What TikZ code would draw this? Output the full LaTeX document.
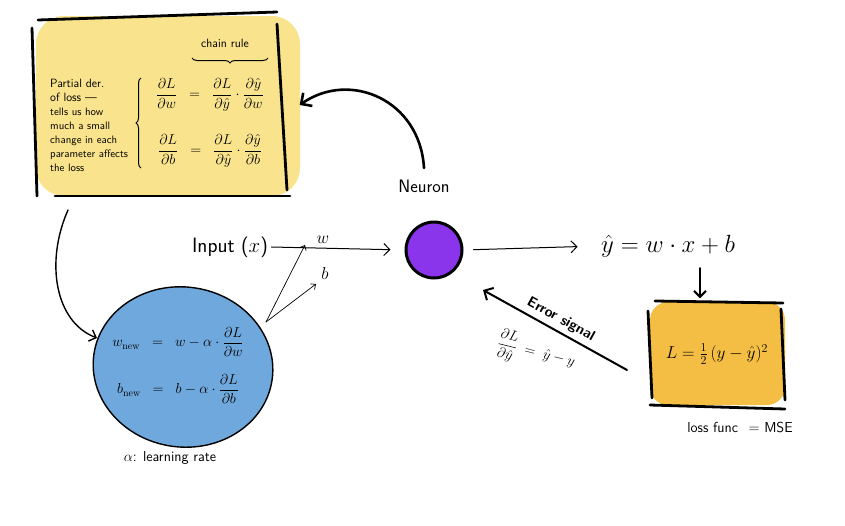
\documentclass[tikz,border=0pt]{standalone}
\usepackage{amsmath}
\usetikzlibrary{arrows.meta,shapes.geometric,decorations.pathreplacing}
\definecolor{yfill}{HTML}{F9E38C}
\definecolor{ofill}{HTML}{F3BE43}
\definecolor{bfill}{HTML}{6FA8DC}
\definecolor{pfill}{HTML}{8A35EC}
\begin{document}
\begin{tikzpicture}[x=1pt,y=-1pt,
  border/.style={line width=2.8pt,line cap=round},
  conn/.style={line width=1pt,line cap=round,-{Straight Barb[length=6pt,width=12pt]}},
  lbl/.style={font=\sffamily},
  brc/.style={line width=1pt,decorate,decoration={brace,amplitude=5pt}},
]
\useasboundingbox (0,0) rectangle (845,525);
% yellow box
\fill[yfill,rounded corners=28pt] (36,16) rectangle (300,196);
\node[minimum width=265pt,minimum height=185pt] (ybox) at (167,105) {};
\draw[border] (38,20) -- (277,12);
\draw[border] (32,28) -- (37,196);
\draw[border] (277,24) -- (287,190);
\draw[border] (55,196) -- (290,196);
\node[anchor=north west,align=left,inner sep=0pt,font=\sffamily\fontsize{10.8}{14}\selectfont] (ytext) at (50,79)
  {{\fontsize{12}{14}\selectfont Partial der.}\\{\fontsize{12}{14}\selectfont of loss ---}\\tells us how\\much a small\\change in each\\parameter affects\\the loss};
\draw[brc] (141,168) -- (141,78);
\node (eq1) at (210,95) {\Large$\dfrac{\partial L}{\partial w}\;\;=\;\;\dfrac{\partial L}{\partial \hat y}\cdot\dfrac{\partial \hat y}{\partial w}$};
\node (eq2) at (210,151) {\Large$\dfrac{\partial L}{\partial b}\;\;=\;\;\dfrac{\partial L}{\partial \hat y}\cdot\dfrac{\partial \hat y}{\partial b}$};
\node[lbl,font=\sffamily\large] (chain) at (225,43) {chain rule};
\draw[brc] (268,58) -- (192,58);
% neuron
\node[circle,fill=pfill,draw=black,line width=3pt,minimum size=56pt] (neuron) at (434,250) {};
\node[lbl,font=\sffamily\fontsize{18}{20}\selectfont] (nlabel) at (424,186) {Neuron};
\coordinate (nstart) at (424,168);
\draw[conn,line width=2.6pt,-{Straight Barb[length=8pt,width=16pt]}] (nstart) .. controls (420,100) and (350,70) .. (ybox.east);
% input
\node[lbl,font=\sffamily\huge] (input) at (230,247) {Input ($x$)};
\draw[conn] (input.east) -- (neuron.west) [shorten >=14pt];
\node (wl) at (323,240) {\LARGE$w$};
\node (bl) at (325,273) {\LARGE$b$};
% loss box
\fill[ofill,rounded corners=18pt] (650,302) rectangle (785,405);
\node[minimum width=135pt,minimum height=103pt] (lbox) at (717,354) {\LARGE$L=\frac{1}{2}\,(y-\hat y)^2$};
\draw[border] (655,301) -- (783,303);
\draw[border] (650,405) -- (785,409);
\draw[border] (648,311) -- (652,398);
\draw[border] (781,309) -- (785,400);
\node[lbl,font=\sffamily\Large] (mse) at (740,427) {loss func\;\;\,= MSE};
% y hat
\node (yhat) at (668,246) {\Huge$\hat y = w\cdot x + b$};
\draw[conn] (neuron.east) -- (yhat.west) [shorten <=10pt,shorten >=20pt];
\coordinate (dstart) at (700,268);
\draw[conn,line width=2pt] (dstart) -- (dstart |- lbox.north) [shorten >=4pt];
% error signal
\coordinate (estart) at (627,370);
\coordinate (etip) at (483,290);
\draw[conn,line width=2pt,-{Straight Barb[length=7pt,width=14pt]}] (estart) -- (etip)
  node[midway,sloped,above,font=\sffamily\Large\bfseries,yshift=1pt] (elabel) {Error signal};
\node[rotate=-14] (grad) at (536,353) {\Large$\dfrac{\partial L}{\partial \hat y}\;=\;\hat y - y$};
% update ellipse
\node[ellipse,fill=bfill,draw=black,line width=1.4pt,minimum width=180pt,minimum height=160pt,rotate=-8] (upd) at (183,367) {};
\node (up1) at (178,342) {\Large$w_{\text{new}}\;\;=\;\;w-\alpha\cdot\dfrac{\partial L}{\partial w}$};
\node (up2) at (178,389) {\Large$b_{\text{new}}\;\;=\;\;b-\alpha\cdot\dfrac{\partial L}{\partial b}$};
\node[lbl,font=\sffamily\Large] (alpha) at (170,458) {$\alpha$: learning rate};
\coordinate (es) at (266,322);
\coordinate (wtip) at (305,245);
\coordinate (btip) at (316,284);
\draw[conn,line width=0.7pt,-{Straight Barb[length=4pt,width=7pt]}] (es) -- (wtip);
\draw[conn,line width=0.7pt,-{Straight Barb[length=4pt,width=7pt]}] (es) -- (btip);
% left curve
\coordinate (ls) at (68,210);
\coordinate (lend) at (97,338);
\draw[conn,line width=1.4pt,-{Straight Barb[length=6pt,width=12pt]}] (ls) .. controls (45,262) and (55,322) .. (lend);
\end{tikzpicture}
\end{document}
